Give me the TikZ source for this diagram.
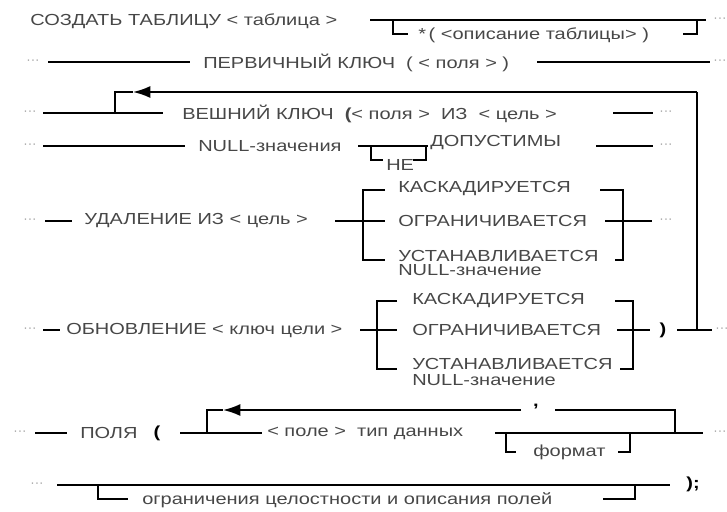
\documentclass[tikz,border=0pt]{standalone}
\usepackage{fontspec}
\newfontfamily\diafont{Liberation Sans}[FakeStretch=1.25]
\usepackage{tikz}
\usetikzlibrary{arrows.meta, positioning}
\newcommand{\lblfont}{\diafont\fontsize{12}{13}\selectfont}

\begin{document}
\begin{tikzpicture}[x=0.75pt, y=-0.75pt,
        lbl/.style={anchor=west, inner sep=0pt, font=\lblfont, text=black!72},
        sym/.style={inner sep=0pt, font=\lblfont\bfseries},
        cont/.style={inner sep=0pt, font=\diafont\fontsize{8}{9}\selectfont, text=black!45},
        line/.style={draw=black, line width=1.3pt},
        heavy/.style={draw=black, line width=2.2pt},
        back/.style={draw=black, line width=1.3pt, -{Latex[length=13pt, width=9pt]}}]

    \useasboundingbox (0,0) rectangle (727,511);

    % CREATE TABLE
    \node [lbl] (create) at (30,21) {СОЗДАТЬ ТАБЛИЦУ < таблица >};
    \node [lbl] (tabdesc) at (418,35) {*\,( <описание таблицы> )};
    \node [cont] (d1) at (720,20) {···};
    \coordinate (c1a) at (370,20); \coordinate (c1b) at (706,20);
    \coordinate (c1s) at (393,20); \coordinate (c1t) at (408,34);
    \coordinate (c1u) at (683,34); \coordinate (c1v) at (697,20);
    \path [line] (c1a) -- (c1b);
    \path [line] (c1s) |- (c1t);
    \path [line] (c1u) -| (c1v);

    % primary key
    \node [cont] (d2a) at (33,62) {···};
    \node [lbl] (pkey) at (203,63) {ПЕРВИЧНЫЙ КЛЮЧ\ \ ( < поля > )};
    \node [cont] (d2b) at (720,62) {···};
    \coordinate (c2a) at (48,62); \coordinate (c2b) at (190,62);
    \coordinate (c2c) at (537,62); \coordinate (c2d) at (710,62);
    \path [line] (c2a) -- (c2b);
    \path [line] (c2c) -- (c2d);

    % foreign key (repeated)
    \node [cont] (d3a) at (30,113) {···};
    \node [lbl] (fkey) at (182,114) {ВЕШНИЙ КЛЮЧ\ \ \textbf{(}< поля >\ \ ИЗ\ \ < цель >};
    \node [cont] (d3b) at (666,113) {···};
    \coordinate (c3a) at (43,113); \coordinate (c3b) at (163,113);
    \coordinate (c3j) at (115,113); \coordinate (c3k) at (115,92);
    \coordinate (c3tip) at (133,92); \coordinate (c3r) at (697,92);
    \coordinate (c3c) at (613,113); \coordinate (c3d) at (653,113);
    \path [heavy] (c3a) -- (c3b);
    \path [heavy] (c3c) -- (c3d);
    \path [line] (c3j) -- (c3k) -- (c3tip);
    \path [back] (c3r) -- (c3tip);

    % NULL allowed
    \node [cont] (d4a) at (30,146) {···};
    \node [lbl] (nulls) at (198,146) {NULL-значения};
    \node [lbl] (neg) at (386,165) {НЕ};
    \node [lbl] (allowed) at (430,143) {ДОПУСТИМЫ};
    \node [cont] (d4b) at (666,146) {···};
    \coordinate (c4a) at (43,146); \coordinate (c4b) at (185,146);
    \coordinate (c4c) at (358,146); \coordinate (c4d) at (428,146);
    \coordinate (c4s) at (371,146); \coordinate (c4t) at (383,160);
    \coordinate (c4u) at (413,160); \coordinate (c4v) at (426,146);
    \coordinate (c4e) at (596,146); \coordinate (c4f) at (653,146);
    \path [line] (c4a) -- (c4b);
    \path [line] (c4c) -- (c4d);
    \path [line] (c4s) |- (c4t);
    \path [line] (c4u) -| (c4v);
    \path [line] (c4e) -- (c4f);

    % on delete
    \node [cont] (d5a) at (30,221) {···};
    \node [lbl] (ondel) at (84,221) {УДАЛЕНИЕ ИЗ < цель >};
    \node [lbl] (del1) at (398,189) {КАСКАДИРУЕТСЯ};
    \node [lbl] (del2) at (398,221) {ОГРАНИЧИВАЕТСЯ};
    \node [lbl] (del3) at (398,256) {УСТАНАВЛИВАЕТСЯ};
    \node [lbl] (del4) at (398,270) {NULL-значение};
    \node [cont] (d5b) at (666,221) {···};
    \coordinate (c5a) at (45,221); \coordinate (c5b) at (72,221);
    \coordinate (c5c) at (335,221); \coordinate (c5d) at (385,221);
    \coordinate (c5tl) at (385,190); \coordinate (c5lt) at (363,190);
    \coordinate (c5lb) at (363,260); \coordinate (c5bl) at (385,260);
    \coordinate (c5tr) at (600,190); \coordinate (c5rt) at (623,190);
    \coordinate (c5rb) at (623,260); \coordinate (c5br) at (615,260);
    \coordinate (c5e) at (605,221); \coordinate (c5f) at (652,221);
    \path [heavy] (c5a) -- (c5b);
    \path [line] (c5c) -- (c5d);
    \path [line] (c5tl) -- (c5lt) -- (c5lb) -- (c5bl);
    \path [line] (c5tr) -- (c5rt) -- (c5rb) -- (c5br);
    \path [line] (c5e) -- (c5f);

    % on update
    \node [cont] (d6a) at (30,330) {···};
    \node [lbl] (onupd) at (66,330) {ОБНОВЛЕНИЕ < ключ цели >};
    \node [lbl] (upd1) at (412,300) {КАСКАДИРУЕТСЯ};
    \node [lbl] (upd2) at (412,330) {ОГРАНИЧИВАЕТСЯ};
    \node [lbl] (upd3) at (412,364) {УСТАНАВЛИВАЕТСЯ};
    \node [lbl] (upd4) at (412,380) {NULL-значение};
    \node [sym] (close) at (663,330) {)};
    \node [cont] (d6b) at (722,330) {···};
    \coordinate (c6a) at (43,330); \coordinate (c6b) at (60,330);
    \coordinate (c6c) at (360,330); \coordinate (c6d) at (397,330);
    \coordinate (c6tl) at (397,301); \coordinate (c6lt) at (377,301);
    \coordinate (c6lb) at (377,369); \coordinate (c6bl) at (397,369);
    \coordinate (c6tr) at (615,301); \coordinate (c6rt) at (633,301);
    \coordinate (c6rb) at (633,369); \coordinate (c6br) at (620,369);
    \coordinate (c6e) at (617,330); \coordinate (c6f) at (650,330);
    \coordinate (c6g) at (677,330); \coordinate (c6h) at (712,330);
    \coordinate (c6j) at (697,330);
    \path [heavy] (c6a) -- (c6b);
    \path [line] (c6c) -- (c6d);
    \path [line] (c6tl) -- (c6lt) -- (c6lb) -- (c6bl);
    \path [line] (c6tr) -- (c6rt) -- (c6rb) -- (c6br);
    \path [line] (c6e) -- (c6f);
    \path [line] (c6g) -- (c6h);
    \path [line] (c3r) -- (c6j);

    % fields
    \node [cont] (d7a) at (20,433) {···};
    \node [lbl] (fields) at (80,433) {ПОЛЯ};
    \node [sym] (open) at (157,433) {(};
    \node [lbl] (fdef) at (267,433) {< поле >\ \ тип данных};
    \node [sym] (comma) at (536,407) {,};
    \node [lbl] (fmt) at (533,452) {формат};
    \node [cont] (d7b) at (720,433) {···};
    \coordinate (c7a) at (35,433); \coordinate (c7b) at (67,433);
    \coordinate (c7c) at (180,433); \coordinate (c7d) at (262,433);
    \coordinate (c7j) at (207,433); \coordinate (c7k) at (207,410);
    \coordinate (c7tip) at (223,410); \coordinate (c7r) at (521,410);
    \coordinate (c7s) at (555,410); \coordinate (c7t) at (675,433);
    \coordinate (c7e) at (495,433); \coordinate (c7f) at (703,433);
    \coordinate (c7u) at (506,433); \coordinate (c7v) at (516,452);
    \coordinate (c7w) at (618,452); \coordinate (c7x) at (630,433);
    \path [heavy] (c7a) -- (c7b);
    \path [line] (c7c) -- (c7d);
    \path [line] (c7j) -- (c7k) -- (c7tip);
    \path [back] (c7r) -- (c7tip);
    \path [line] (c7s) -| (c7t);
    \path [line] (c7e) -- (c7f);
    \path [line] (c7u) |- (c7v);
    \path [line] (c7w) -| (c7x);

    % constraints
    \node [cont] (d8a) at (37,485) {···};
    \node [lbl] (constr) at (142,500) {ограничения целостности и описания полей};
    \node [sym] (semi) at (693,484) {);};
    \coordinate (c8a) at (57,485); \coordinate (c8b) at (670,485);
    \coordinate (c8s) at (98,485); \coordinate (c8t) at (128,499);
    \coordinate (c8u) at (603,499); \coordinate (c8v) at (635,485);
    \path [line] (c8a) -- (c8b);
    \path [line] (c8s) |- (c8t);
    \path [line] (c8u) -| (c8v);
\end{tikzpicture}
\end{document}
